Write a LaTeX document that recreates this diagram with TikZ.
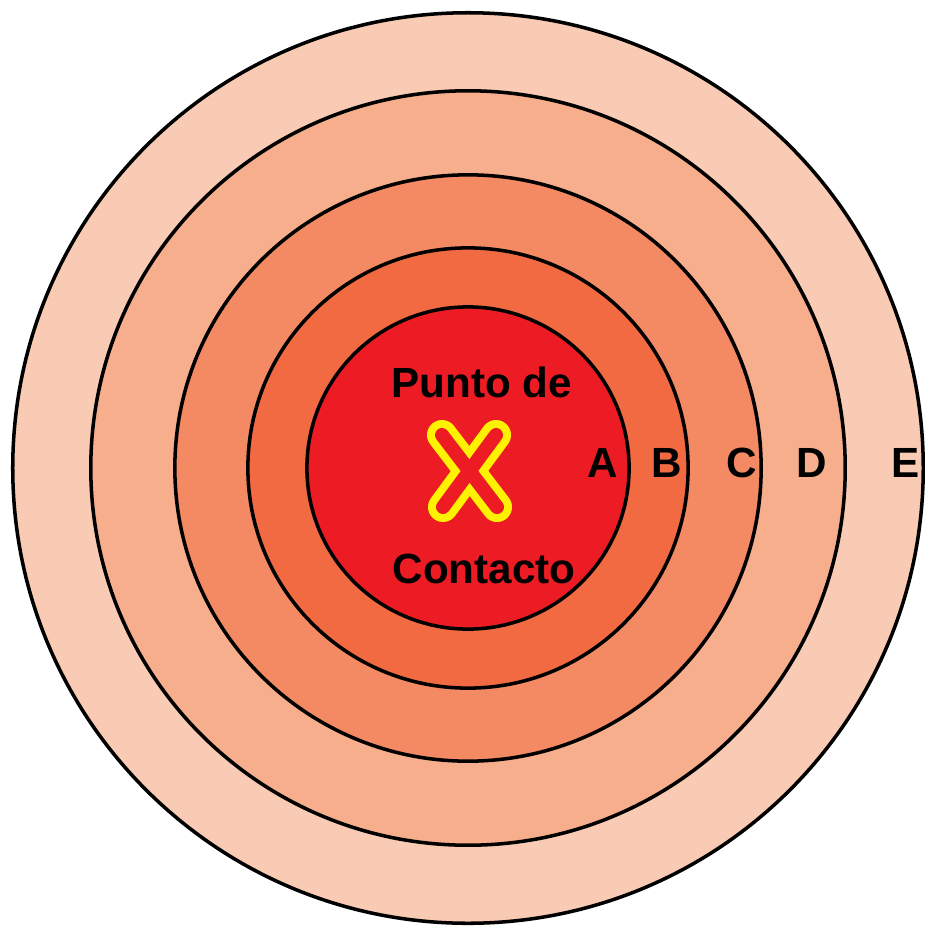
\documentclass[tikz,border=0pt]{standalone}
\usepackage{fontspec}
\setmainfont{Liberation Sans}
\usetikzlibrary{positioning}
\definecolor{zonea}{HTML}{ED1C24}
\definecolor{zoneb}{HTML}{F26A42}
\definecolor{zonec}{HTML}{F48A63}
\definecolor{zoned}{HTML}{F7AE8D}
\definecolor{zonee}{HTML}{FACBB4}
\definecolor{markyellow}{HTML}{FFF200}

\begin{document}
\begin{tikzpicture}[
    x=0.01cm, y=-0.01cm,
    ring/.style={draw=black, line width=1pt},
    lbl/.style={inner sep=0pt, anchor=base, font=\bfseries\fontsize{12}{14}\selectfont},
    markout/.style={draw=markyellow, line width=0.30cm, line cap=round},
    markin/.style={draw=zonea, line width=0.14cm, line cap=round}
]
\useasboundingbox (0,0) rectangle (925,927);

% Rings
\coordinate (ctr) at (468,468);
\foreach \r/\c in {4.55/zonee, 3.77/zoned, 2.93/zonec, 2.20/zoneb, 1.61/zonea}
    \draw[ring, fill=\c] (ctr) circle [radius=\r cm];

% Contact mark
\coordinate (xtl) at (442,435);
\coordinate (xtr) at (496,435);
\coordinate (xbl) at (443,507);
\coordinate (xbr) at (497,507);
\draw[markout] (xtl) -- (xbr);
\draw[markout] (xtr) -- (xbl);
\draw[markin] (xtl) -- (xbr);
\draw[markin] (xtr) -- (xbl);

% Labels
\node[lbl] (punto) at (482,397) {Punto de};
\node[lbl] (contacto) at (484,583) {Contacto};
\node[lbl] (za) at (603,477) {A};
\node[lbl] (zb) at (667,477) {B};
\node[lbl] (zc) at (742,477) {C};
\node[lbl] (zd) at (812,477) {D};
\node[lbl] (ze) at (906,477) {E};

\end{tikzpicture}
\end{document}
